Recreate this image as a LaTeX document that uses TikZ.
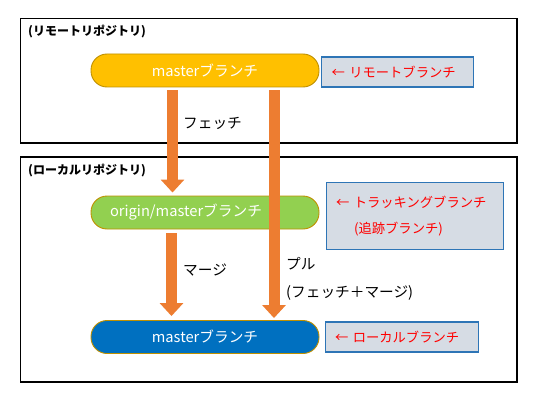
\documentclass[tikz,border=0pt]{standalone}
\usepackage{fontspec}
\newfontfamily\jpfont{Noto Sans CJK JP}
\usetikzlibrary{arrows.meta}
\definecolor{gold}{HTML}{BF9000}
\definecolor{notegray}{HTML}{D6DCE4}
\definecolor{noteblue}{HTML}{2E75B6}
\definecolor{arroworange}{HTML}{ED7D31}
\definecolor{remoteyellow}{HTML}{FFC000}
\definecolor{trackgreen}{HTML}{92D050}
\definecolor{localblue}{HTML}{0070C0}

\begin{document}
\begin{tikzpicture}[x=1pt,y=-1pt,
    branch/.style={draw=gold, line width=0.9pt, rounded corners=16pt,
        minimum width=228pt, minimum height=33pt, text=white,
        font=\jpfont\fontsize{14.67}{17}\selectfont},
    note/.style={draw=noteblue, fill=notegray, line width=1.1pt, anchor=west,
        align=left, inner xsep=10pt, text=red,
        font=\jpfont\fontsize{13.3}{26}\selectfont},
    flow/.style={line width=11pt, draw=arroworange,
        -{Triangle[width=23pt,length=13pt]}},
    frame/.style={draw, line width=1.2pt},
    title/.style={anchor=west, inner sep=0pt,
        font=\jpfont\bfseries\fontsize{12}{14}\selectfont},
    flowlabel/.style={anchor=west, inner sep=0pt, align=left,
        font=\jpfont\fontsize{14.67}{28}\selectfont}]
    \useasboundingbox (0,0) rectangle (534,401);

    % remote repository
    \draw[frame] (20.5,18.5) rectangle (517,143);
    \node[title] (remotetitle) at (28,31) {(リモートリポジトリ)};
    \node[branch, fill=remoteyellow] (rmaster) at (205,70.5) {masterブランチ};
    \node[note, minimum height=30pt, text width=132pt] (rnote) at (321,72)
        {← リモートブランチ};

    % local repository
    \draw[frame] (20.5,157) rectangle (517,382);
    \node[title] (localtitle) at (28,170) {(ローカルリポジトリ)};
    \node[branch, fill=trackgreen] (omaster) at (205,212.5)
        {origin/masterブランチ\hspace*{38pt}};
    \node[note, minimum height=67pt, text width=157.5pt] (onote) at (325.5,216)
        {← トラッキングブランチ\\\hspace{18pt}(追跡ブランチ)};
    \node[branch, fill=localblue] (nmaster) at (205,337) {masterブランチ};
    \node[note, minimum height=30pt, text width=133.5pt] (nnote) at (324.5,337)
        {← ローカルブランチ};

    % arrows
    \draw[flow] ([xshift=-32.5pt,yshift=-3pt]rmaster.south)
        -- ([xshift=-32.5pt,yshift=3pt]omaster.north);
    \draw[flow] ([xshift=-33.5pt,yshift=-4pt]omaster.south)
        -- ([xshift=-33.5pt,yshift=4pt]nmaster.north);
    \draw[flow] ([xshift=69pt,yshift=-3pt]rmaster.south)
        -- ([xshift=69pt,yshift=2pt]nmaster.north);
    \node[flowlabel] (fetchtext) at (183,123) {フェッチ};
    \node[flowlabel] (mergetext) at (183,270) {マージ};
    \node[flowlabel] (pulltext) at (286,279) {プル\\(フェッチ＋マージ)};
\end{tikzpicture}
\end{document}
